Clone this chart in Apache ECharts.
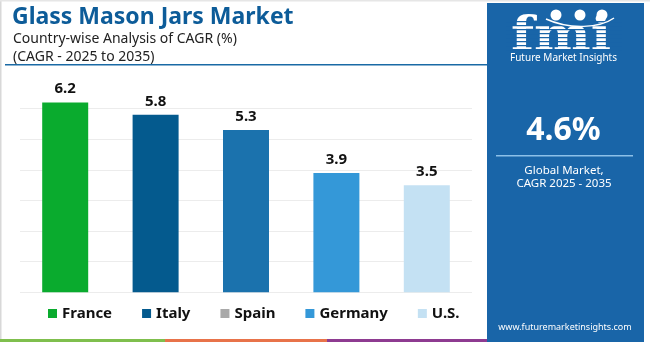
<!DOCTYPE html>
<html>
<head>
<meta charset="utf-8">
<script src="https://cdn.jsdelivr.net/npm/echarts@6/dist/echarts.min.js"></script>
<style>
  html, body { margin: 0; padding: 0; background: #fff; }
  #chart { width: 650px; height: 342px; }
</style>
</head>
<body>
<div id="chart"></div>
<script>
// Country-wise CAGR, 2025 to 2035
const countries = ['France', 'Italy', 'Spain', 'Germany', 'U.S.'];
const cagr = [6.2, 5.8, 5.3, 3.9, 3.5];
const barColors = ['#0aab2e', '#045a8e', '#1b72ad', '#3498d8', '#c4e1f3'];
const legendColors = ['#0aab2e', '#045a8e', '#a9a9a9', '#3498d8', '#c4e1f3'];
const yTicks = [0, 1, 2, 3, 4, 5, 6];
const globalCagr = '4.6%';

const FONT = '"Noto Sans", "DejaVu Sans", sans-serif';
const PANEL = '#1965a8';

// one series per country, stacked so each bar sits centred in its own slot
const series = countries.map((name, i) => ({
  name,
  type: 'bar',
  stack: 'all',
  barWidth: 46,
  clip: false,
  itemStyle: { color: barColors[i] },
  label: {
    show: true,
    position: 'top',
    distance: 6,
    color: '#111',
    fontFamily: FONT,
    fontWeight: 'bold',
    fontSize: 15
  },
  data: countries.map((_, j) => (j === i ? cagr[i] : '-'))
}));

// striped "fmi" wordmark lines
const stripes = [];
for (let y = 21; y < 50; y += 4) {
  stripes.push({
    type: 'rect',
    shape: { x: 506, y, width: 116, height: 1.3 },
    style: { fill: PANEL }
  });
}

const chart = echarts.init(document.getElementById('chart'), null, { renderer: 'canvas' });
chart.setOption({
  animation: false,
  backgroundColor: '#fff',
  grid: { left: 20, right: 178, top: 108.7, bottom: 49.7 },
  xAxis: {
    type: 'category',
    data: countries,
    axisLine: { show: false },
    axisTick: { show: false },
    axisLabel: { show: false }
  },
  yAxis: {
    type: 'value',
    min: yTicks[0],
    max: yTicks[yTicks.length - 1],
    interval: 1,
    axisLabel: { show: false },
    axisLine: { show: false },
    axisTick: { show: false },
    splitLine: { lineStyle: { color: '#ececec', width: 1 } }
  },
  legend: {
    data: countries.map((name, i) => ({ name, itemStyle: { color: legendColors[i] } })),
    left: 48,
    top: 306,
    padding: 0,
    itemWidth: 9,
    itemHeight: 9,
    itemGap: 30,
    icon: 'rect',
    textStyle: { fontFamily: FONT, fontWeight: 'bold', fontSize: 15, color: '#111' }
  },
  series,
  graphic: [
    // frame edges
    { type: 'rect', shape: { x: 0, y: 0, width: 1.5, height: 342 }, style: { fill: '#d8d8d8' } },
    { type: 'rect', shape: { x: 0, y: 0, width: 650, height: 1.5 }, style: { fill: '#e6e6e6' } },
    // heading
    { type: 'text', x: 12, y: 17, style: { text: 'Glass Mason Jars Market', fill: '#0d5c99', font: 'bold 23px ' + FONT, verticalAlign: 'middle' } },
    { type: 'text', x: 13, y: 39, style: { text: 'Country-wise Analysis of CAGR (%)', fill: '#222', font: '14px ' + FONT, verticalAlign: 'middle' } },
    { type: 'text', x: 13, y: 57, style: { text: '(CAGR - 2025 to 2035)', fill: '#222', font: '14px ' + FONT, verticalAlign: 'middle' } },
    { type: 'rect', shape: { x: 5, y: 64, width: 485, height: 1.5 }, style: { fill: '#1a6aa5' } },
    // bottom colour strip
    { type: 'rect', shape: { x: 0, y: 339, width: 165, height: 3 }, style: { fill: '#7fbf4d' } },
    { type: 'rect', shape: { x: 165, y: 339, width: 162, height: 3 }, style: { fill: '#e8734a' } },
    { type: 'rect', shape: { x: 327, y: 339, width: 162, height: 3 }, style: { fill: '#8e3b91' } },
    // side panel
    { type: 'rect', shape: { x: 487, y: 3, width: 157, height: 339 }, style: { fill: PANEL } },
    { type: 'text', x: 511, y: 38, scaleX: 1.14, style: { text: 'fmi', fill: '#fff', font: 'bold 47px "DejaVu Serif", serif', verticalAlign: 'middle' } },
    ...stripes,
    { type: 'circle', shape: { cx: 556, cy: 15, r: 5.5 }, style: { fill: '#fff' } },
    { type: 'circle', shape: { cx: 580, cy: 15, r: 5.5 }, style: { fill: '#fff' } },
    { type: 'circle', shape: { cx: 602, cy: 15, r: 5.5 }, style: { fill: '#fff' } },
    { type: 'bezierCurve', shape: { x1: 546, y1: 19, cpx1: 570, cpy1: 30, cpx2: 600, cpy2: 28, x2: 614, y2: 18 }, style: { stroke: '#fff', lineWidth: 1.5, fill: null } },
    { type: 'text', x: 563.5, y: 58, style: { text: 'Future Market Insights', fill: '#fff', font: '10px ' + FONT, align: 'center', verticalAlign: 'middle' } },
    { type: 'text', x: 563.5, y: 131, style: { text: globalCagr, fill: '#fff', font: 'bold 32px ' + FONT, align: 'center', verticalAlign: 'middle' } },
    { type: 'rect', shape: { x: 496, y: 155, width: 137, height: 1.5 }, style: { fill: '#8cc0e8' } },
    { type: 'text', x: 564, y: 171, style: { text: 'Global Market,', fill: '#fff', font: '11.5px ' + FONT, align: 'center', verticalAlign: 'middle' } },
    { type: 'text', x: 564, y: 184, style: { text: 'CAGR 2025 - 2035', fill: '#fff', font: '11.5px ' + FONT, align: 'center', verticalAlign: 'middle' } },
    { type: 'text', x: 565, y: 327, style: { text: 'www.futuremarketinsights.com', fill: '#fff', font: '9px ' + FONT, align: 'center', verticalAlign: 'middle' } }
  ]
});
</script>
</body>
</html>
